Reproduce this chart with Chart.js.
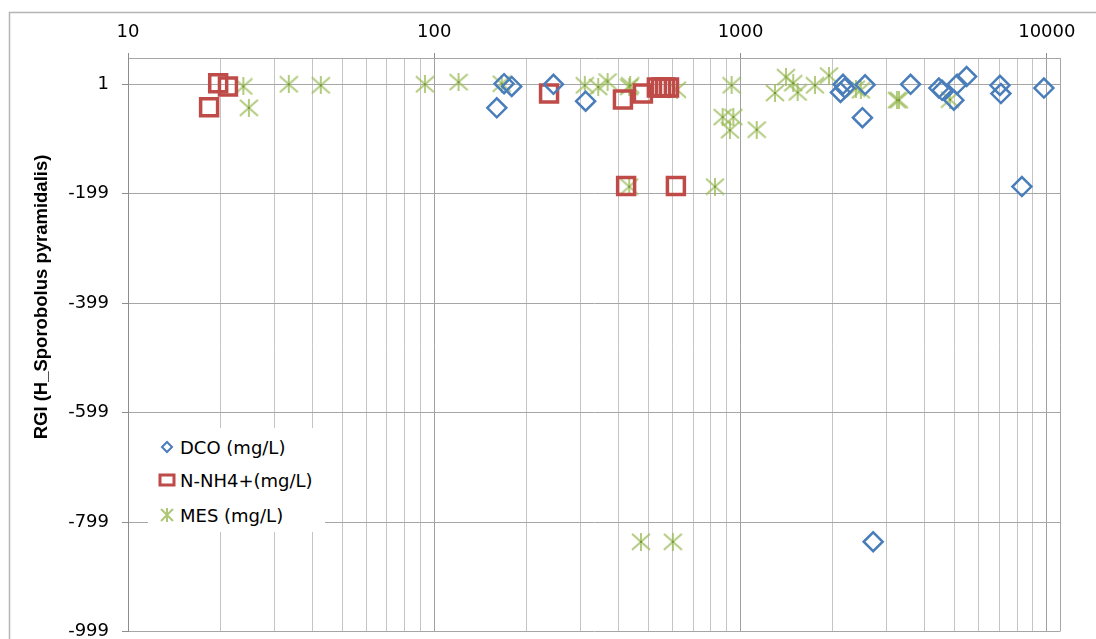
<!DOCTYPE html>
<html>
<head>
<meta charset="utf-8">
<script src="https://cdn.jsdelivr.net/npm/chart.js@4"></script>
<style>
  html, body { margin: 0; background: #fff; overflow: hidden; }
  #wrap { position: relative; width: 1096px; height: 639px; overflow: hidden; }
  #chart { display: block; }
  #legend { position: absolute; left: 148px; top: 428px; width: 177px; height: 104px; background: #fff;
            font: 18px "DejaVu Sans", sans-serif; color: #000; }
  #legend .row { position: absolute; left: 9px; height: 24px; display: flex; align-items: center; white-space: nowrap; }
  #legend svg { margin-right: 3px; }
</style>
</head>
<body>
<div id="wrap">
  <canvas id="chart" width="1096" height="647"></canvas>
  <div id="legend">
    <div class="row" style="top:7px">
      <svg width="20" height="24"><path d="M10 7 L15 12 L10 17 L5 12 Z" fill="none" stroke="#4a7ebb" stroke-width="2"/></svg>DCO (mg/L)
    </div>
    <div class="row" style="top:40px">
      <svg width="20" height="24"><rect x="3" y="7" width="14" height="10" fill="none" stroke="#be4b48" stroke-width="3"/></svg>N-NH4+(mg/L)
    </div>
    <div class="row" style="top:75px">
      <svg width="20" height="24"><path d="M4 6 L16 18 M16 6 L4 18 M10 5 L10 19" stroke="#98b954" stroke-opacity="0.8" stroke-width="2"/></svg>MES (mg/L)
    </div>
  </div>
</div>
<script>
// DCO (mg/L)
const dcoX = [169, 179, 160, 245, 312, 2160, 2190, 2120, 2550, 2500, 3590, 4440, 4550, 5470, 5090, 4970, 7030, 7080, 9780, 8290, 2710];
const dcoY = [2, -3, -42, 1, -30, 1, -6, -14, 0, -60, 1, -6, -10, 15, 1, -28, -1, -16, -6, -186, -835];

// N-NH4+ (mg/L)
const nh4X = [19.7, 21.2, 18.4, 237, 413, 480, 533, 550, 567, 584, 423, 615];
const nh4Y = [3, -3, -41, -16, -27, -16, -5, -5, -5, -5, -185, -185];

// MES (mg/L)
const mesX = [23.8, 24.8, 33.5, 42.6, 93.2, 120, 166, 310, 343, 368, 433, 436, 620, 935, 1295, 1407, 1486, 1536,
              1750, 1944, 2380, 2470, 3240, 3290, 4830, 874, 947, 923, 1129, 433, 825, 473, 601];
const mesY = [-3, -42, 1, -1, 1, 5, 2, -1, -4, 6, -4, -1, -9, -1, -15, 14, 3, -14,
              -1, 17, -7, -10, -28, -28, -27, -59, -59, -83, -82, -186, -186, -835, -835];

const xMajor = [10, 100, 1000, 10000];
const yTicks = [-999, -799, -599, -399, -199, 1];
const yTitle = 'RGI (H_Sporobolus pyramidalis)';

const tickFont = { family: '"DejaVu Sans", sans-serif', size: 18 };

function toPoints(xs, ys) {
    return xs.map((x, i) => ({ x: x, y: ys[i] }));
}

// vertical grid at every 1..9 step of each decade
const xGrid = [];
for (let i = 0; i < xMajor.length - 1; i++) {
    for (let k = 1; k < 10; k++) xGrid.push(k * xMajor[i]);
}
xGrid.push(xMajor[xMajor.length - 1]);

function makeStar() {
    const c = document.createElement('canvas');
    c.width = 20;
    c.height = 18;
    const g = c.getContext('2d');
    g.strokeStyle = 'rgba(152, 185, 84, 0.75)';
    g.lineWidth = 2;
    g.beginPath();
    g.moveTo(1, 1); g.lineTo(19, 17);
    g.moveTo(19, 1); g.lineTo(1, 17);
    g.moveTo(10, 0); g.lineTo(10, 18);
    g.stroke();
    g.fillStyle = '#6f9236';
    g.fillRect(9, 8, 2, 2);
    return c;
}

const framePlugin = {
    id: 'frame',
    beforeDraw(chart) {
        const ctx = chart.ctx;
        ctx.save();
        ctx.strokeStyle = '#b4b4b4';
        ctx.lineWidth = 1.5;
        ctx.strokeRect(9.5, 12.5, 1200, 800);
        ctx.restore();
    },
    beforeDatasetsDraw(chart) {
        const ctx = chart.ctx;
        const a = chart.chartArea;
        ctx.save();
        ctx.strokeStyle = '#a6a6a6';
        ctx.lineWidth = 1;
        ctx.beginPath();
        ctx.moveTo(a.right + 0.5, a.top);
        ctx.lineTo(a.right + 0.5, a.bottom);
        ctx.stroke();
        ctx.restore();
    },
    afterDraw(chart) {
        const ctx = chart.ctx;
        ctx.save();
        ctx.translate(46.5, 297);
        ctx.rotate(-Math.PI / 2);
        ctx.font = 'bold 18.5px "Liberation Sans", Arial, sans-serif';
        ctx.fillStyle = '#000';
        ctx.textAlign = 'center';
        ctx.textBaseline = 'alphabetic';
        ctx.fillText(yTitle, 0, 0);
        ctx.restore();
    }
};

new Chart(document.getElementById('chart'), {
    type: 'scatter',
    data: {
        datasets: [
            {
                label: 'DCO (mg/L)',
                data: toPoints(dcoX, dcoY),
                pointStyle: 'rectRot',
                pointRadius: 9.5,
                pointHoverRadius: 9.5,
                borderWidth: 2.5,
                borderColor: '#4a7ebb',
                backgroundColor: 'rgba(0,0,0,0)'
            },
            {
                label: 'N-NH4+(mg/L)',
                data: toPoints(nh4X, nh4Y),
                pointStyle: 'rect',
                pointRadius: 12,
                pointHoverRadius: 12,
                borderWidth: 3.5,
                borderColor: '#be4b48',
                backgroundColor: 'rgba(0,0,0,0)'
            },
            {
                label: 'MES (mg/L)',
                data: toPoints(mesX, mesY),
                pointStyle: makeStar(),
                pointRadius: 9,
                pointHoverRadius: 9,
                borderColor: '#98b954',
                backgroundColor: '#98b954'
            }
        ]
    },
    options: {
        responsive: false,
        animation: false,
        layout: { padding: { left: 0, top: 0, right: 36, bottom: 1 } },
        plugins: {
            legend: { display: false },
            tooltip: { enabled: false }
        },
        scales: {
            x: {
                type: 'logarithmic',
                position: 'top',
                min: 10,
                max: 11040,
                afterFit: s => {
                    s.height = 58;
                    s.paddingLeft = 0;
                    s.paddingRight = 0;
                },
                afterBuildTicks: s => { s.ticks = xGrid.map(v => ({ value: v })); },
                ticks: {
                    autoSkip: false,
                    maxRotation: 0,
                    padding: 10,
                    color: '#000',
                    font: tickFont,
                    callback: v => xMajor.includes(v) ? String(v) : ''
                },
                grid: {
                    color: c => (c.tick && xMajor.includes(c.tick.value)) ? '#a0a0a0' : '#c4c4c4',
                    tickLength: 5,
                    tickColor: c => (c.tick && xMajor.includes(c.tick.value)) ? '#8c8c8c' : 'rgba(0,0,0,0)'
                },
                border: { color: '#a6a6a6' }
            },
            y: {
                min: -999,
                max: 49,
                afterFit: s => {
                    s.width = 128;
                    s.paddingTop = 0;
                    s.paddingBottom = 0;
                },
                afterBuildTicks: s => { s.ticks = yTicks.map(v => ({ value: v })); },
                ticks: {
                    padding: 13,
                    color: '#000',
                    font: tickFont
                },
                grid: {
                    color: '#a6a6a6',
                    tickLength: 6,
                    tickColor: '#8c8c8c'
                },
                border: { color: '#8c8c8c' }
            }
        }
    },
    plugins: [framePlugin]
});
</script>
</body>
</html>
